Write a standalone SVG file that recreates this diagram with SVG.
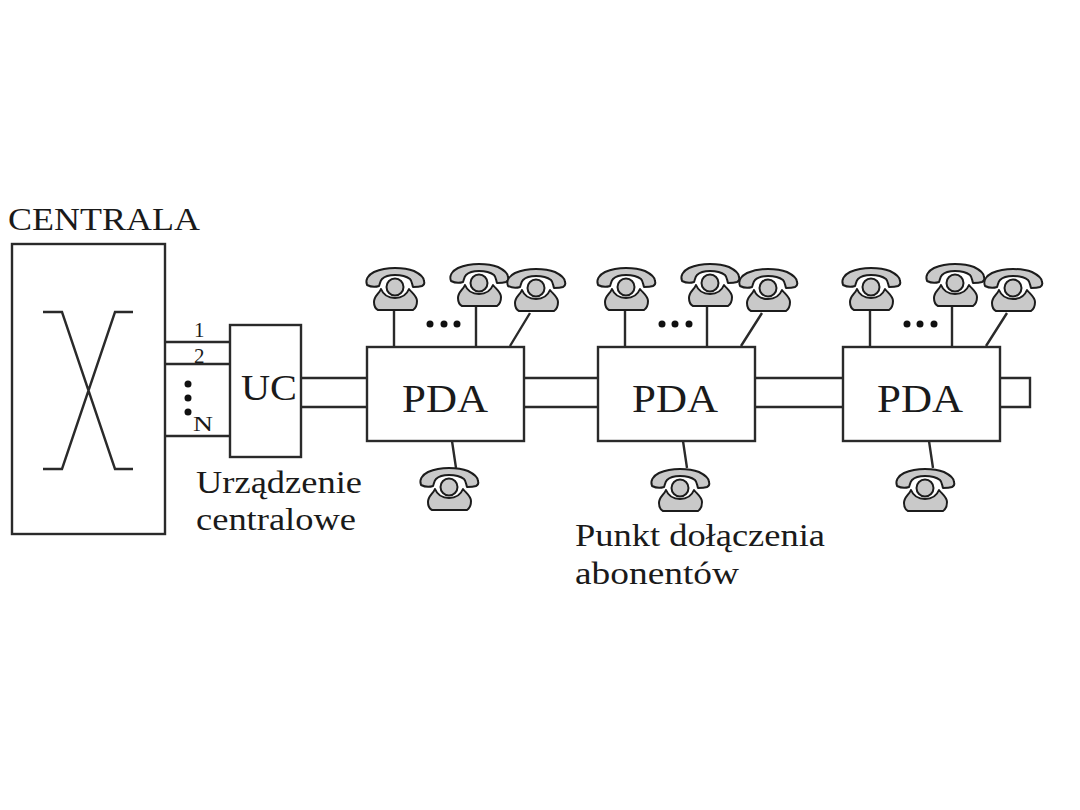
<svg xmlns="http://www.w3.org/2000/svg" width="1080" height="810" viewBox="0 0 1080 810">
  <style>
    .box { fill: #fff; stroke: #2a2a2a; stroke-width: 2.4; }
    .wire { fill: none; stroke: #2a2a2a; stroke-width: 2.4; }
    .dot { fill: #111; }
    text { font-family: "Liberation Serif", "Times New Roman", serif; fill: #1a1a1a; }
    .lbl { font-size: 31px; }
    .pda { font-size: 40px; }
    .small { font-size: 21px; }
    .ph { fill: #c9c9c9; stroke: #1c1c1c; stroke-width: 2; stroke-linejoin: round; }
  </style>
  <defs>
    <!-- desk telephone, origin at the centre of the dial -->
    <g id="phone">
      <path class="ph" d="M-28,-2 C-30,-7 -27,-12 -21,-15 C-14,-18 -7,-19 0,-19 C8,-19 14,-18 19,-16 C25,-13 29,-10 29,-6 C30,-3 29,-2 27,-1 C24,0 21,0 18,0 C17,-3 17,-6 15,-8 C11,-11 5,-12 0,-12 C-5,-12 -10,-11 -13,-8 C-15,-6 -15,-3 -16,-1 C-19,0 -24,0 -28,-2 Z"/>
      <path class="ph" d="M-14,2 C-16,7 -21,9 -21,15 C-21,20 -19,22 -17,23 L18,23 C21,21 22,18 22,14 C22,9 17,6 14,2 C12,7 7,11 0,11 C-7,11 -12,7 -14,2 Z"/>
      <circle class="ph" cx="0" cy="0" r="8.5"/>
    </g>
  </defs>

  <g id="connectors">
    <path class="wire" d="M43,312H62L115,469H133M133,312H115L62,469H43"/>
    <path class="wire" d="M165,342H230M165,364H230M165,436H230"/>
    <path class="wire" d="M301,378H367M301,407H367M524,378H598M524,407H598M755,378H843M755,407H843"/>
    <path class="wire" d="M1000,378H1030V407H1000"/>
    <path class="wire" d="M394,310V347M476,306V347M530,313L510,346M452,441L456,468"/>
    <path class="wire" d="M625,310V347M707,306V347M762,313L741,346M683,441L687,468"/>
    <path class="wire" d="M870,310V347M952,306V347M1007,313L986,346M929,441L933,468"/>
  </g>

  <g id="centrala">
    <rect class="box" x="12" y="244" width="153" height="290" style="fill:none"/>
    <text x="8" y="230" textLength="192" lengthAdjust="spacingAndGlyphs" style="font-size:31px">CENTRALA</text>
  </g>

  <g id="line-labels">
    <text class="small" x="194" y="337">1</text>
    <text class="small" x="194" y="363">2</text>
    <text class="small" x="193" y="431" textLength="20" lengthAdjust="spacingAndGlyphs">N</text>
    <circle class="dot" cx="188" cy="384" r="3.5"/>
    <circle class="dot" cx="188" cy="398" r="3.5"/>
    <circle class="dot" cx="188" cy="412" r="3.5"/>
  </g>

  <g id="uc">
    <rect class="box" x="230" y="325" width="71" height="132"/>
    <text x="241" y="400" textLength="56" lengthAdjust="spacingAndGlyphs" style="font-size:36px">UC</text>
  </g>
  <g id="uc-label">
    <text class="lbl" x="196" y="493" textLength="166" lengthAdjust="spacingAndGlyphs">Urządzenie</text>
    <text class="lbl" x="196" y="530" textLength="160" lengthAdjust="spacingAndGlyphs">centralowe</text>
  </g>

  <g id="pda-1">
    <rect class="box" x="367" y="347" width="157" height="94"/>
    <text class="pda" x="402" y="412" textLength="86" lengthAdjust="spacingAndGlyphs">PDA</text>
    <use href="#phone" x="395" y="287"/>
    <use href="#phone" x="479" y="283"/>
    <use href="#phone" x="536" y="288"/>
    <use href="#phone" x="449" y="487"/>
    <circle class="dot" cx="430" cy="324" r="3.5"/>
    <circle class="dot" cx="444" cy="324" r="3.5"/>
    <circle class="dot" cx="457" cy="324" r="3.5"/>
  </g>
  <g id="pda-2">
    <rect class="box" x="598" y="347" width="157" height="94"/>
    <text class="pda" x="632" y="412" textLength="86" lengthAdjust="spacingAndGlyphs">PDA</text>
    <use href="#phone" x="626" y="287"/>
    <use href="#phone" x="710" y="283"/>
    <use href="#phone" x="768" y="288"/>
    <use href="#phone" x="680" y="488"/>
    <circle class="dot" cx="662" cy="324" r="3.5"/>
    <circle class="dot" cx="675" cy="324" r="3.5"/>
    <circle class="dot" cx="689" cy="324" r="3.5"/>
  </g>
  <g id="pda-3">
    <rect class="box" x="843" y="347" width="157" height="94"/>
    <text class="pda" x="877" y="412" textLength="86" lengthAdjust="spacingAndGlyphs">PDA</text>
    <use href="#phone" x="871" y="287"/>
    <use href="#phone" x="955" y="283"/>
    <use href="#phone" x="1013" y="288"/>
    <use href="#phone" x="925" y="488"/>
    <circle class="dot" cx="907" cy="324" r="3.5"/>
    <circle class="dot" cx="920" cy="324" r="3.5"/>
    <circle class="dot" cx="934" cy="324" r="3.5"/>
  </g>

  <g id="pda-label">
    <text class="lbl" x="575" y="546" textLength="250" lengthAdjust="spacingAndGlyphs">Punkt dołączenia</text>
    <text class="lbl" x="575" y="584" textLength="164" lengthAdjust="spacingAndGlyphs">abonentów</text>
  </g>
</svg>
